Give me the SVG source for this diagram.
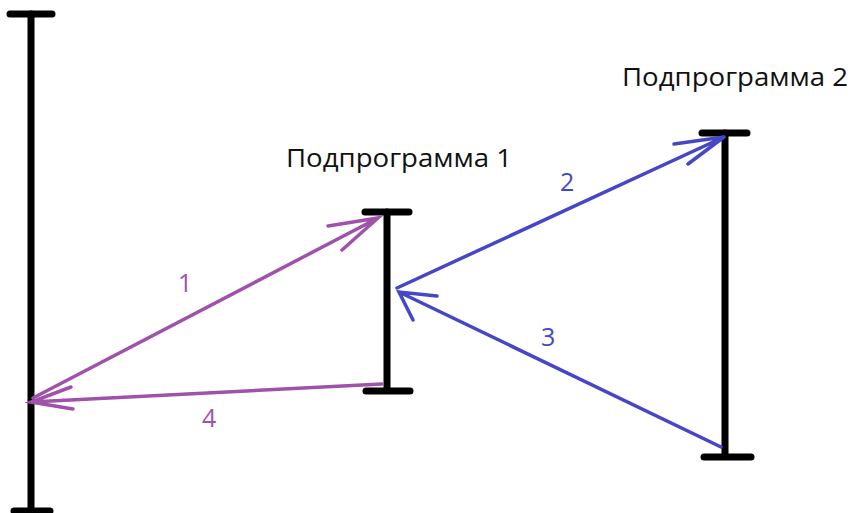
<svg xmlns="http://www.w3.org/2000/svg" width="858" height="513" viewBox="0 0 858 513">
<style>
.bar{stroke:#000;stroke-width:7;stroke-linecap:round;fill:none}
.p{stroke:#a052aa;stroke-width:3.5;stroke-linecap:round;fill:none}
.b{stroke:#4646c8;stroke-width:3.5;stroke-linecap:round;fill:none}
.t{font-family:"Open Sans","Liberation Sans",sans-serif;font-size:26px;fill:#111}
.np{font-family:"Open Sans","Liberation Sans",sans-serif;font-size:25px;fill:#a052aa}
.nb{font-family:"Open Sans","Liberation Sans",sans-serif;font-size:25px;fill:#4646c8}
</style>
<rect width="858" height="513" fill="#fff"/>
<g id="main">
<line class="bar" x1="31" y1="14" x2="31" y2="513"/>
<line class="bar" x1="10" y1="14" x2="52" y2="14"/>
<line class="bar" x1="14" y1="511" x2="50" y2="511"/>
</g>
<g id="sub1">
<line class="bar" x1="387" y1="212" x2="387" y2="388"/>
<line class="bar" x1="365" y1="212" x2="409" y2="212"/>
<line class="bar" x1="366" y1="391" x2="410" y2="391"/>
<text class="t" x="286" y="167" textLength="226" lengthAdjust="spacingAndGlyphs">Подпрограмма 1</text>
</g>
<g id="sub2">
<line class="bar" x1="725" y1="133" x2="725" y2="455"/>
<line class="bar" x1="702" y1="133" x2="747" y2="133"/>
<line class="bar" x1="704" y1="457" x2="751" y2="457"/>
<text class="t" x="622" y="86" textLength="226" lengthAdjust="spacingAndGlyphs">Подпрограмма 2</text>
</g>
<g id="connectors">
<path class="p" d="M33 398 L378 218 M328 226 L378 218 L342 250"/>
<path class="p" d="M382 384 L31 402 M71 387 L31 402 L73 409"/>
<path class="b" d="M397 288 L724 137 M674 144 L724 137 L688 164"/>
<path class="b" d="M721 447 L399 292 M437 296 L399 292 L413 320"/>
<text class="np" x="178" y="292">1</text>
<text class="nb" x="560" y="191">2</text>
<text class="nb" x="541" y="346">3</text>
<text class="np" x="202" y="427">4</text>
</g>
</svg>
